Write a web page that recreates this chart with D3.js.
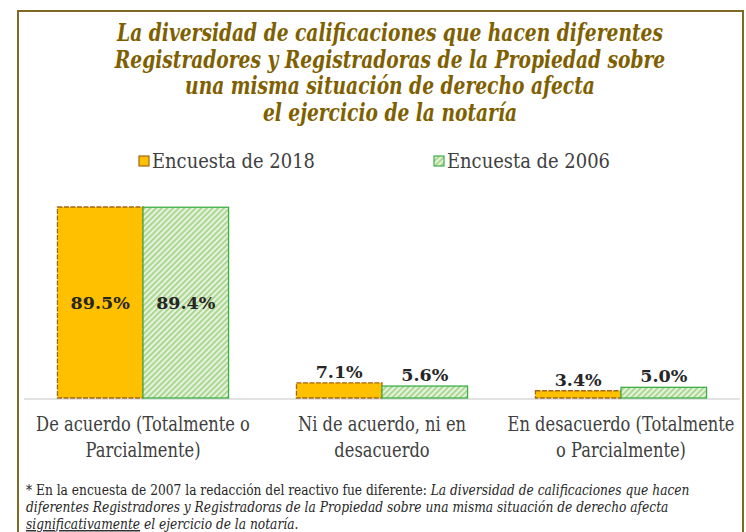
<!DOCTYPE html>
<html>
<head>
<meta charset="utf-8">
<script src="https://cdn.jsdelivr.net/npm/d3@7/dist/d3.min.js"></script>
<style>
  html, body { margin: 0; padding: 0; background: #ffffff; }
  svg { display: block; }
</style>
</head>
<body>
<svg id="chart" width="746" height="532"></svg>
<script>
// ---- Data ----
const categories = [
  ["De acuerdo (Totalmente o", "Parcialmente)"],
  ["Ni de acuerdo, ni en", "desacuerdo"],
  ["En desacuerdo (Totalmente", "o Parcialmente)"]
];
const seriesNames = ["Encuesta de 2018", "Encuesta de 2006"];
const values2018 = [89.5, 7.1, 3.4];
const values2006 = [89.4, 5.6, 5.0];
const titleLines = [
  "La diversidad de calificaciones que hacen diferentes",
  "Registradores y Registradoras de la Propiedad sobre",
  "una misma situación de derecho afecta",
  "el ejercicio de la notaría"
];

// ---- Setup ----
const svg = d3.select("#chart");
const SERIF = "'DejaVu Serif', 'Liberation Serif', serif";

// horizontal squeeze so a text spans a given width
function squeezeTo(sel, width) {
  const w = sel.node().getComputedTextLength();
  return width / w;
}

// pattern for the 2006 series
const defs = svg.append("defs");
const pat = defs.append("pattern")
  .attr("id", "hatch")
  .attr("patternUnits", "userSpaceOnUse")
  .attr("width", 4).attr("height", 4)
  .attr("patternTransform", "rotate(45)");
pat.append("rect").attr("width", 4).attr("height", 4).attr("fill", "#e6f2dd");
pat.append("rect").attr("width", 1.8).attr("height", 4).attr("fill", "#a6d58a");

// frame
svg.append("rect")
  .attr("x", 18).attr("y", 11)
  .attr("width", 725).attr("height", 540)
  .attr("fill", "#ffffff")
  .attr("stroke", "#7f6a24").attr("stroke-width", 2);

// ---- Title ----
const titleG = svg.append("g");
const titleTexts = titleLines.map(t =>
  titleG.append("text")
    .attr("font-family", SERIF)
    .attr("font-size", 24)
    .attr("font-weight", "bold")
    .attr("font-style", "italic")
    .attr("fill", "#7f6000")
    .attr("text-anchor", "middle")
    .text(t)
);
const titleScale = squeezeTo(titleTexts[0], 546);
titleTexts.forEach((t, i) =>
  t.attr("transform", `translate(390,${41 + i * 26.5}) scale(${titleScale},1)`)
);

// ---- Scales ----
const x0 = d3.scaleBand()
  .domain(d3.range(categories.length))
  .range([23.5, 740.5])
  .paddingInner(0.284)
  .paddingOuter(0.142);
const x1 = d3.scaleBand()
  .domain([0, 1])
  .range([0, x0.bandwidth()]);
const y = d3.scaleLinear().domain([0, 100]).range([398, 398 - 213.4]);

// baseline
svg.append("line")
  .attr("x1", 24).attr("x2", 740)
  .attr("y1", y(0) + 1).attr("y2", y(0) + 1)
  .attr("stroke", "#d9d9d9").attr("stroke-width", 1.5);

// ---- Bars ----
const seriesValues = [values2018, values2006];
const seriesStyle = [
  { fill: "#ffc000", stroke: "#a0661a", dash: "5,1.5" },
  { fill: "url(#hatch)", stroke: "#3fae49", dash: null }
];

const groups = svg.append("g").selectAll("g")
  .data(categories)
  .join("g")
  .attr("transform", (d, i) => `translate(${x0(i)},0)`);

seriesValues.forEach((vals, s) => {
  groups.append("rect")
    .attr("x", x1(s))
    .attr("y", (d, i) => y(vals[i]))
    .attr("width", x1.bandwidth())
    .attr("height", (d, i) => y(0) - y(vals[i]))
    .attr("fill", seriesStyle[s].fill)
    .attr("stroke", seriesStyle[s].stroke)
    .attr("stroke-width", 1.3)
    .attr("stroke-dasharray", seriesStyle[s].dash);
});

// value labels
seriesValues.forEach((vals, s) => {
  groups.append("text")
    .attr("x", x1(s) + x1.bandwidth() / 2)
    .attr("y", (d, i) => vals[i] > 20
      ? (y(vals[i]) + y(0)) / 2 + 6
      : y(vals[i]) - 5)
    .attr("text-anchor", "middle")
    .attr("font-family", SERIF)
    .attr("font-weight", "bold")
    .attr("font-size", 17.5)
    .attr("fill", "#262626")
    .text((d, i) => vals[i].toFixed(1) + "%");
});

// category labels
const catTexts = [];
categories.forEach((lines, i) => {
  lines.forEach((ln, j) => {
    const t = svg.append("text")
      .attr("font-family", SERIF)
      .attr("font-size", 20)
      .attr("fill", "#404040")
      .attr("text-anchor", "middle")
      .text(ln);
    catTexts.push({ t, cx: x0(i) + x0.bandwidth() / 2, y: 431 + j * 26 });
  });
});
const catScale = squeezeTo(catTexts[0].t, 214);
catTexts.forEach(o => o.t.attr("transform", `translate(${o.cx},${o.y}) scale(${catScale},1)`));

// ---- Legend ----
const legendX = [139, 434];
seriesNames.forEach((name, s) => {
  svg.append("rect")
    .attr("x", legendX[s]).attr("y", 156)
    .attr("width", 10).attr("height", 10)
    .attr("fill", seriesStyle[s].fill)
    .attr("stroke", seriesStyle[s].stroke)
    .attr("stroke-width", 1.2);
  const t = svg.append("text")
    .attr("font-family", SERIF)
    .attr("font-size", 20)
    .attr("fill", "#404040")
    .text(name);
  const sc = squeezeTo(t, 163);
  t.attr("transform", `translate(${legendX[s] + 13},168) scale(${sc},1)`);
});

// ---- Footnote ----
const noteLines = [
  [["* En la encuesta de 2007 la redacción del reactivo fue diferente: ", false, false],
   ["La diversidad de calificaciones que hacen", true, false]],
  [["diferentes Registradores y Registradoras de la Propiedad sobre una misma situación de derecho afecta", true, false]],
  [["significativamente", true, true], [" el ejercicio de la notaría.", true, false]]
];
const noteTexts = noteLines.map(parts => {
  const t = svg.append("text")
    .attr("font-family", SERIF)
    .attr("font-size", 14)
    .attr("fill", "#262626");
  parts.forEach(([str, it, ul]) => {
    t.append("tspan")
      .attr("font-style", it ? "italic" : "normal")
      .attr("text-decoration", ul ? "underline" : null)
      .text(str);
  });
  return t;
});
const noteScale = squeezeTo(noteTexts[0], 664);
noteTexts.forEach((t, i) =>
  t.attr("transform", `translate(26,${495 + i * 17}) scale(${noteScale},1)`)
);
</script>
</body>
</html>
